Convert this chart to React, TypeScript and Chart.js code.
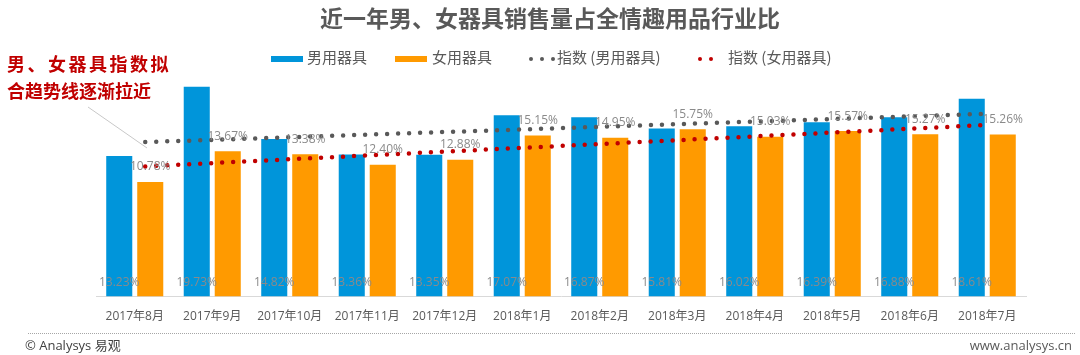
import React, { useEffect, useRef } from "react";
import { Chart, registerables } from "chart.js";

Chart.register(...registerables);

// ---- data ----
const categories = [
  "2017年8月", "2017年9月", "2017年10月", "2017年11月", "2017年12月", "2018年1月",
  "2018年2月", "2018年3月", "2018年4月", "2018年5月", "2018年6月", "2018年7月",
];
const maleShare = [13.23, 19.73, 14.82, 13.36, 13.35, 17.07, 16.87, 15.81, 16.02, 16.39, 16.88, 18.61];
const femaleShare = [10.78, 13.67, 13.38, 12.4, 12.88, 15.15, 14.95, 15.75, 15.03, 15.57, 15.27, 15.26];
// trend lines: value at first and last month
const maleTrend = [14.5, null, null, null, null, null, null, null, null, null, null, 17.2];
const femaleTrend = [12.2, null, null, null, null, null, null, null, null, null, null, 16.15];

const seriesNames = ["男用器具", "女用器具", "指数 (男用器具)", "指数 (女用器具)"];
const titleText = "近一年男、女器具销售量占全情趣用品行业比";
const noteLines = ["男、女器具指数拟", "合趋势线逐渐拉近"];
const footerLeft = "© Analysys 易观";
const footerRight = "www.analysys.cn";

const BLUE = "#0095DA";
const ORANGE = "#FF9A00";
const GREY_DOT = "#595959";
const RED_DOT = "#C00000";
const TEXT = "#595959";
const LABEL = "#8a8a8a";
const FONT = '"Open Sans", "Noto Sans CJK SC", sans-serif';
const CJK = '"Noto Sans CJK SC", "Open Sans", sans-serif';

const fmt = (v: number) => v.toFixed(2) + "%";

export default function App() {
  const ref = useRef<HTMLCanvasElement>(null);

  useEffect(() => {
    document.body.style.margin = "0";
    const canvas = ref.current!;
    const labelPlugin = {
      id: "valueLabels",
      afterDatasetsDraw(chart: any) {
        const c = chart.ctx;
        c.save();
        c.font = "12px " + FONT;
        c.fillStyle = LABEL;
        c.textAlign = "center";
        c.textBaseline = "middle";
        const bottom = chart.chartArea.bottom;
        chart.getDatasetMeta(0).data.forEach((el: any, i: number) => {
          c.fillText(fmt(maleShare[i]), el.x, bottom - 14);
        });
        chart.getDatasetMeta(1).data.forEach((el: any, i: number) => {
          c.fillText(fmt(femaleShare[i]), el.x, el.y - 15);
        });
        c.restore();
      },
    };

    const chart = new Chart(canvas, {
      type: "bar",
      data: {
        labels: categories,
        datasets: [
          {
            type: "bar",
            label: seriesNames[0],
            data: maleShare,
            backgroundColor: BLUE,
            categoryPercentage: 0.8,
            barPercentage: 0.84,
            order: 2,
          },
          {
            type: "bar",
            label: seriesNames[1],
            data: femaleShare,
            backgroundColor: ORANGE,
            categoryPercentage: 0.8,
            barPercentage: 0.84,
            order: 2,
          },
          {
            type: "line",
            label: seriesNames[2],
            data: maleTrend as any,
            borderColor: GREY_DOT,
            borderWidth: 4.5,
            borderDash: [0, 11],
            borderDashOffset: 0.5,
            borderCapStyle: "round",
            pointRadius: 0,
            spanGaps: true,
            fill: false,
            order: 1,
          },
          {
            type: "line",
            label: seriesNames[3],
            data: femaleTrend as any,
            borderColor: RED_DOT,
            borderWidth: 4.5,
            borderDash: [0, 11],
            borderDashOffset: 0.5,
            borderCapStyle: "round",
            pointRadius: 0,
            spanGaps: true,
            fill: false,
            order: 1,
          },
        ],
      },
      options: {
        responsive: false,
        animation: false,
        events: [],
        layout: { padding: { left: 96, right: 54, top: 84, bottom: 18 } },
        plugins: {
          legend: { display: false },
          title: { display: false },
          tooltip: { enabled: false },
        },
        scales: {
          x: {
            grid: { display: false, drawTicks: false },
            border: { display: true, color: "#d9d9d9", width: 1 },
            ticks: {
              color: TEXT,
              font: { size: 12, family: FONT },
              padding: 13,
              maxRotation: 0,
              autoSkip: false,
            },
          },
          y: {
            display: false,
            min: 0,
            max: 20,
          },
        },
      },
      plugins: [labelPlugin],
    } as any);
    return () => chart.destroy();
  }, []);

  const abs = (s: React.CSSProperties): React.CSSProperties => ({ position: "absolute", whiteSpace: "nowrap", ...s });
  const dot = (x: number, y: number, color: string) => (
    <div key={x + color} style={abs({ left: x - 2, top: y - 2, width: 4, height: 4, borderRadius: 2, background: color })} />
  );

  return (
    <div style={{ position: "relative", width: 1080, height: 355, background: "#fff", overflow: "hidden" }}>
      <canvas ref={ref} width={1080} height={355} style={{ position: "absolute", left: 0, top: 0 }} />
      {/* title */}
      <div style={abs({ left: 550, top: 2, transform: "translateX(-50%)", font: "bold 23px " + CJK, lineHeight: "30px", color: TEXT })}>
        {titleText}
      </div>
      {/* legend */}
      <div style={abs({ left: 271, top: 56, width: 32, height: 6, background: BLUE })} />
      <div style={abs({ left: 307, top: 47, font: "15px " + CJK, lineHeight: "20px", color: TEXT })}>{seriesNames[0]}</div>
      <div style={abs({ left: 395, top: 56, width: 32, height: 6, background: ORANGE })} />
      <div style={abs({ left: 432, top: 47, font: "15px " + CJK, lineHeight: "20px", color: TEXT })}>{seriesNames[1]}</div>
      {dot(531, 58.5, GREY_DOT)}
      {dot(542, 58.5, GREY_DOT)}
      {dot(553, 58.5, GREY_DOT)}
      <div style={abs({ left: 557, top: 47, font: "15px " + CJK, lineHeight: "20px", color: TEXT })}>{seriesNames[2]}</div>
      {dot(700, 58.5, RED_DOT)}
      {dot(711, 58.5, RED_DOT)}
      <div style={abs({ left: 728, top: 47, font: "15px " + CJK, lineHeight: "20px", color: TEXT })}>{seriesNames[3]}</div>
      {/* annotation */}
      <div style={abs({ left: 7, top: 51, font: "bold 18px " + CJK, lineHeight: "24px", color: RED_DOT, letterSpacing: "2.5px" })}>
        {noteLines[0]}
      </div>
      <div style={abs({ left: 7, top: 78, font: "bold 18px " + CJK, lineHeight: "24px", color: RED_DOT })}>{noteLines[1]}</div>
      <svg width={1080} height={355} style={{ position: "absolute", left: 0, top: 0, pointerEvents: "none" }}>
        <line x1={88} y1={107} x2={147} y2={148} stroke="#c8c8c8" strokeWidth={1} />
      </svg>
      {/* footer */}
      <div style={abs({ left: 28, top: 333, width: 1047, height: 0, borderTop: "1px dotted #a6a6a6" })} />
      <div style={abs({ left: 25, top: 336, font: "13px " + FONT, lineHeight: "18px", color: "#404040" })}>{footerLeft}</div>
      <div style={abs({ right: 8, top: 336, font: "13px " + FONT, lineHeight: "18px", color: TEXT })}>{footerRight}</div>
    </div>
  );
}
